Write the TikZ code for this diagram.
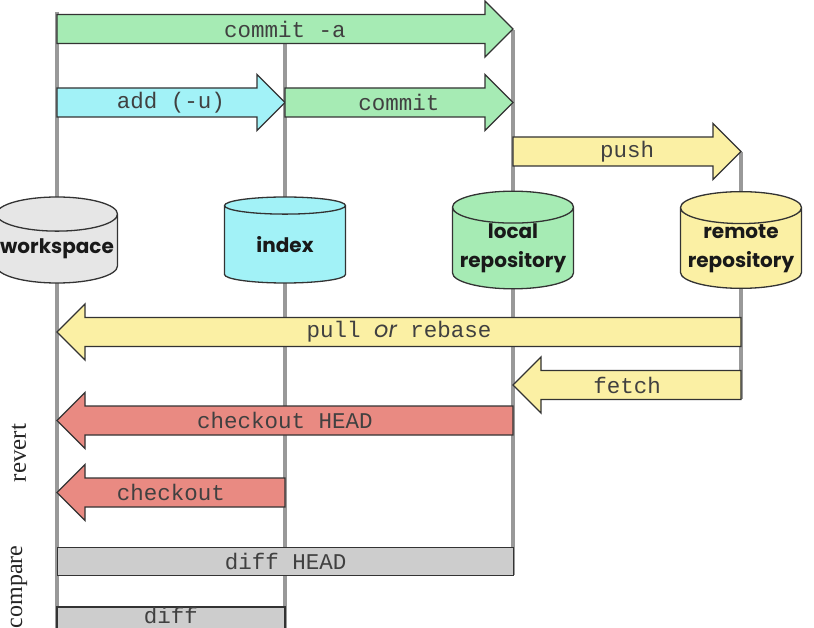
\documentclass[tikz,border=0pt]{standalone}
\usepackage{fontspec}
\setmonofont{Liberation Mono}
\newfontfamily\diskfont{Poppins}
\newfontfamily\sidefont{Liberation Serif}
\usetikzlibrary{shapes.geometric, calc}
\definecolor{LaneGray}{HTML}{999999}
\definecolor{InkGray}{HTML}{404040}
\definecolor{CommitGreen}{HTML}{A6EBB4}
\definecolor{StageCyan}{HTML}{A2F2F7}
\definecolor{RemoteYellow}{HTML}{FBF0A4}
\definecolor{RevertRed}{HTML}{E98A82}
\definecolor{DiffGray}{HTML}{CDCDCD}
\definecolor{DiskGray}{HTML}{E6E6E6}

% fat arrow from lane #2 to lane #3 at height #4, label node #6
\newcommand{\gitarrow}[6]{%
  \pgfmathsetmacro\hd{(#3>#2)?28:-28}
  \filldraw[#1] (#2,#4-14.5) -- (#3-\hd,#4-14.5) -- (#3-\hd,#4-28) -- (#3,#4)
    -- (#3-\hd,#4+28) -- (#3-\hd,#4+14.5) -- (#2,#4+14.5) -- cycle;
  \node[cmd] (#6) at ({(#2+#3)/2},#4) {#5};}

\begin{document}
\begin{tikzpicture}[x=1pt, y=-1pt,
    lane/.style={draw=LaneGray, line width=3.5pt},
    disk/.style={cylinder, shape border rotate=90, draw=black!80, line width=1.3pt,
      minimum width=121pt, minimum height=86pt, aspect=0.3, inner sep=0pt,
      anchor=shape center, align=center, text=black!90,
      font=\diskfont\bfseries\fontsize{20}{29}\selectfont},
    cmd/.style={text=InkGray, font=\ttfamily\fontsize{22.5}{24}\selectfont, inner sep=0pt},
    side/.style={rotate=90, text=black!85},
    shaft/.style={draw=black!80, line width=1.3pt, fill=#1},
    cmpbox/.style={cmd, draw=black!80, line width=1.3pt, fill=DiffGray, anchor=north west,
      minimum height=28pt}]
\clip (0,0) rectangle (814,628);
\fill[white] (0,0) rectangle (814,628);

% lanes
\coordinate (wsTop) at (57,12);   \coordinate (wsEnd) at (57,640);
\coordinate (ixTop) at (285,44);  \coordinate (ixEnd) at (285,640);
\coordinate (lrTop) at (513,30);  \coordinate (lrEnd) at (513,575);
\coordinate (rrTop) at (741,152); \coordinate (rrEnd) at (741,399);
\draw[lane] (wsTop) -- (wsEnd);
\draw[lane] (ixTop) -- (ixEnd);
\draw[lane] (lrTop) -- (lrEnd);
\draw[lane] (rrTop) -- (rrEnd);

% stores
\node[disk, fill=DiskGray] (ws) at (57,240) {workspace};
\node[disk, fill=StageCyan] (ix) at (285,240) {index};
\node[disk, fill=CommitGreen] (lr) at (513,240) {local\\repository};
\node[disk, fill=RemoteYellow] (rr) at (741,240) {remote\\repository};

% commands
\gitarrow{shaft=CommitGreen}{57}{513}{29}{commit -a}{commitA}
\gitarrow{shaft=StageCyan}{57}{285}{102.5}{add (-u)}{add}
\gitarrow{shaft=CommitGreen}{285}{513}{102.5}{commit}{commit}
\gitarrow{shaft=RemoteYellow}{513}{741}{151.5}{push}{push}
\gitarrow{shaft=RemoteYellow}{741}{57}{332}{pull {\diskfont\itshape or} rebase}{pull}
\gitarrow{shaft=RemoteYellow}{741}{513}{385}{fetch}{fetch}
\gitarrow{shaft=RevertRed}{513}{57}{420.5}{checkout HEAD}{coHead}
\gitarrow{shaft=RevertRed}{285}{57}{492.5}{checkout}{co}

\node[cmpbox, minimum width=456pt] (diffHead) at (57,547) {diff HEAD};
\filldraw[shaft=DiffGray] (wsEnd |- 0,607) rectangle (ixEnd |- 0,640);
\node[cmd, anchor=base] (diff) at (171,623) {diff};

\node[side, font=\sidefont\fontsize{25}{27}\selectfont] (revert) at (19,453) {revert};
\node[side, font=\sidefont\fontsize{24}{26}\selectfont] (compare) at (19,587) {compare};
\end{tikzpicture}
\end{document}
